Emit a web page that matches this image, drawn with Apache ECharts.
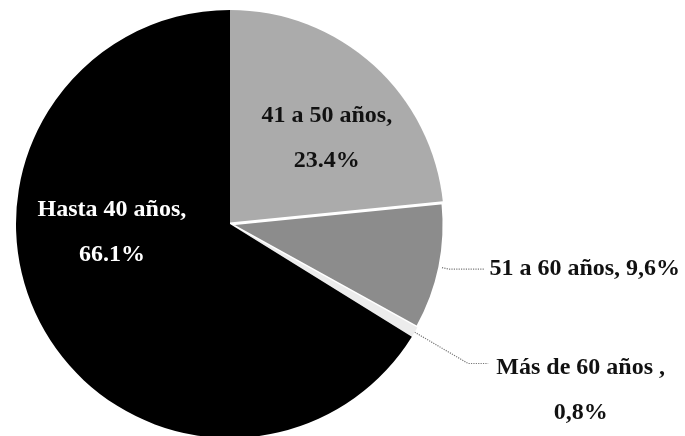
<!DOCTYPE html>
<html>
<head>
<meta charset="utf-8">
<script src="https://cdn.jsdelivr.net/npm/echarts@6/dist/echarts.min.js"></script>
<style>
html,body{margin:0;padding:0;background:#fff;}
#c{width:685px;height:436px;}
</style>
</head>
<body>
<div id="c"></div>
<script>
const categories = ['41 a 50 años', '51 a 60 años', 'Más de 60 años ', 'Hasta 40 años'];
const values = [23.4, 9.6, 0.8, 66.1];
const valueTexts = ['23.4%', '9,6%', '0,8%', '66.1%'];
const colors = ['#ababab', '#8c8c8c', '#ececec', '#000000'];

const chart = echarts.init(document.getElementById('c'));
const font = { fontFamily: 'Liberation Serif', fontWeight: 'bold', fontSize: 24 };

const data = categories.map((name, i) => ({ name, value: values[i], itemStyle: { color: colors[i] } }));

// 41 a 50 (inside, black text)
data[0].label = Object.assign({}, font, {
  show: true, position: 'inside', color: '#111', lineHeight: 45,
  formatter: () => categories[0] + ',\n' + valueTexts[0]
});
data[0].labelLine = { show: false };
// 51 a 60 (outside, one line)
data[1].itemStyle.borderColor = '#ffffff';
data[1].itemStyle.borderWidth = 3;
data[1].label = Object.assign({}, font, {
  position: 'outside', color: '#111',
  formatter: () => categories[1] + ', ' + valueTexts[1]
});
data[1].labelLine = { show: true, length: 10, length2: 35, lineStyle: { color: '#777', type: 'dotted', width: 1.2 } };
// Más de 60 (outside, two centered lines)
data[2].label = {
  position: 'outside', color: '#111',
  padding: [54, 0, 0, 0],
  formatter: () => '{a|' + categories[2] + ',}\n{a|' + valueTexts[2] + '}',
  rich: { a: Object.assign({}, font, { color: '#111', width: 175, align: 'center', lineHeight: 45 }) }
};
data[2].labelLine = { show: true, length: 62, length2: 20, lineStyle: { color: '#777', type: 'dotted', width: 1.2 } };
// Hasta 40 (inside, white text)
data[3].label = Object.assign({}, font, {
  show: true, position: 'inside', color: '#fff', lineHeight: 45,
  formatter: () => categories[3] + ',\n' + valueTexts[3]
});
data[3].labelLine = { show: false };

chart.setOption({
  backgroundColor: '#ffffff',
  animation: false,
  series: [{
    type: 'pie',
    center: [230, 224],
    radius: 214,
    startAngle: 90,
    clockwise: true,
    avoidLabelOverlap: false,
    label: { show: true },
    labelLayout: function (p) {
      if (p.dataIndex === 0) return { dx: 23, dy: -4 };
      if (p.dataIndex === 3) return { dx: -22, dy: -45 };
      return {};
    },
    data: data
  }]
});
</script>
</body>
</html>
